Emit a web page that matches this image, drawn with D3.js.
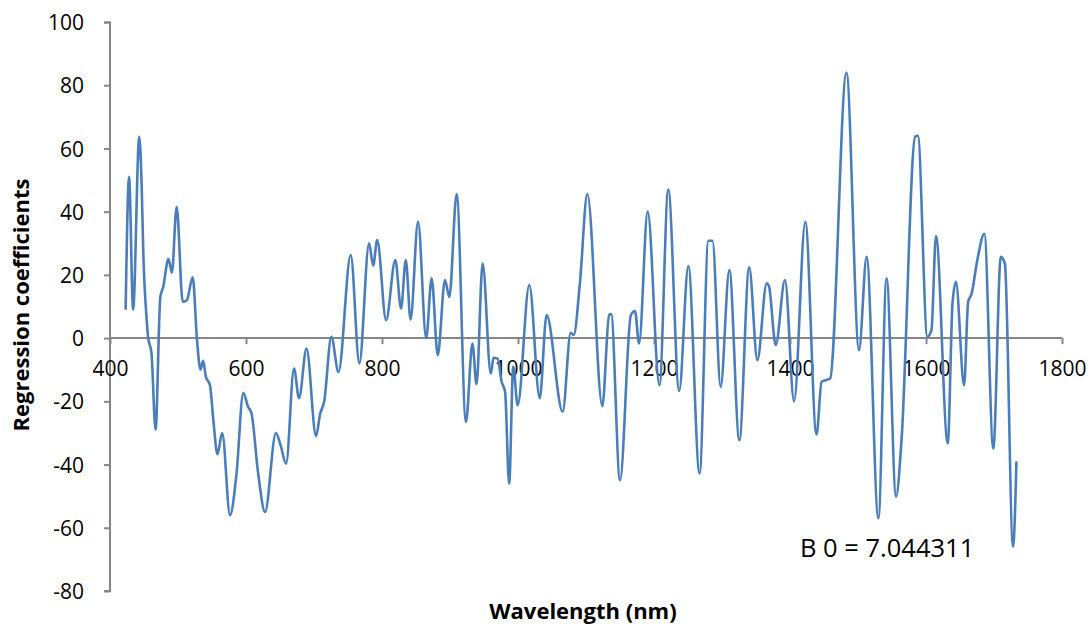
<!DOCTYPE html>
<html><head><meta charset="utf-8">
<script src="https://cdn.jsdelivr.net/npm/d3@7"></script>
<style>body{margin:0;background:#fff}svg{display:block}text{font-family:"Open Sans",sans-serif}</style>
</head><body><svg id="c" width="1089" height="628"></svg>
<script>
const wavelengths = [423,428,434,443,446.6,449,454,456,461,467,474,478,486,491,498,507,513,521.6,528,533,537,541,547,552,558,565,576.5,586,596,603,608,618,628,644,651,659,670.6,678,689,703,709,715,725.5,736,754,766.7,781,787,793,806,819.6,828,835,842,853,865,873,882,892.6,899,909.8,923.5,933,939,948,960,964,970,976,981,987,993,999.5,1016.6,1032,1042,1065.7,1077.5,1082,1091,1102,1124,1134,1137,1150,1166,1172,1178,1190.7,1208,1221,1237,1250.5,1267,1280,1286,1298,1310.8,1325.5,1340,1352,1365.7,1369,1379,1392.6,1406,1422.5,1439,1446.5,1459,1483,1501.5,1512.7,1530,1542,1556,1564,1584,1588,1602,1608,1614.7,1632,1639,1644,1656,1662,1667,1675.5,1685.8,1699,1710,1716,1728,1733];
const coefficients = [9,51,9,63.7,47.9,26.8,5.7,0.4,-4.8,-29,13,16,25,20.7,41.5,11.5,12,19.2,-0.6,-10,-7.2,-12.2,-14.9,-26,-36.7,-30,-56,-43,-17.3,-21.7,-23.7,-43,-55,-30,-34,-39.7,-9.6,-19,-3.3,-31,-24,-20,0.4,-10.7,26.3,-8,30,23,31,5.7,24.7,9.4,24.7,5.9,36.8,0,18.9,-5.4,18.4,13,45.6,-26.5,-1.7,-14.6,23.6,-11.2,-6.2,-6.5,-13.8,-17,-46,-9,-21.2,16.8,-19,7.3,-23.3,1.7,1,17.3,45.6,-21.5,7.3,7.6,-45,7.3,8.6,-1.7,40,-14.9,47,-16.7,22.8,-42.8,30.8,30.8,-15.4,21.5,-32.3,22.4,-7,17.3,16.5,-2.2,18.4,-20,36.8,-30.5,-13.8,-12.8,84,-3.8,25.7,-57,18.9,-50.2,-32.3,63.7,64,0.4,2.5,32.3,-33.3,11,17.8,-14.9,11.5,14,24.7,33,-35,25.7,23.6,-66,-39];
const xTicks = [400,600,800,1000,1200,1400,1600,1800];
const yTicks = [-80,-60,-40,-20,0,20,40,60,80,100];
const xTitle = "Wavelength (nm)";
const yTitle = "Regression coefficients";
const note = "B 0 = 7.044311";

const svg = d3.select("#c");
const x = d3.scaleLinear().domain([400,1800]).range([110,1062]);
const y = d3.scaleLinear().domain([-80,100]).range([591,22]);
const axisColor = "#868686";

const ya = svg.append("g").attr("transform","translate(110,0)")
  .call(d3.axisLeft(y).tickValues(yTicks).tickSize(6).tickPadding(20).tickFormat(d=>String(d)));
const xa = svg.append("g").attr("transform",`translate(0,${y(0)})`)
  .call(d3.axisBottom(x).tickValues(xTicks).tickSize(6).tickPadding(17).tickFormat(d=>String(d)));
[ya,xa].forEach(g=>{
  g.select(".domain").attr("stroke",axisColor).attr("stroke-width",2);
  g.selectAll(".tick line").attr("stroke",axisColor).attr("stroke-width",2);
  g.selectAll(".tick text").attr("fill","#000").style("font-size","21px").style("font-family","'Open Sans',sans-serif");
});
ya.selectAll(".tick text").attr("dy","0.36em");
ya.select(".domain").attr("d","M-6,22.5H0V591H-6");
xa.select(".domain").attr("d","M110,0H1062");

const data = wavelengths.map((w,i)=>[w,coefficients[i]]);
svg.append("path").datum(data)
  .attr("fill","none").attr("stroke","#4a7ebb").attr("stroke-width",2.6)
  .attr("d", d3.line().x(d=>x(d[0])).y(d=>y(d[1])).curve(d3.curveMonotoneX));

svg.append("text").attr("x",583).attr("y",619).attr("text-anchor","middle")
  .style("font-size","22px").style("font-weight","bold").text(xTitle);
svg.append("text").attr("transform","translate(29,305) rotate(-90)").attr("text-anchor","middle")
  .style("font-size","22px").style("font-weight","bold").text(yTitle);
svg.append("text").attr("x",800).attr("y",557)
  .style("font-size","25.5px").text(note);
</script></body></html>
